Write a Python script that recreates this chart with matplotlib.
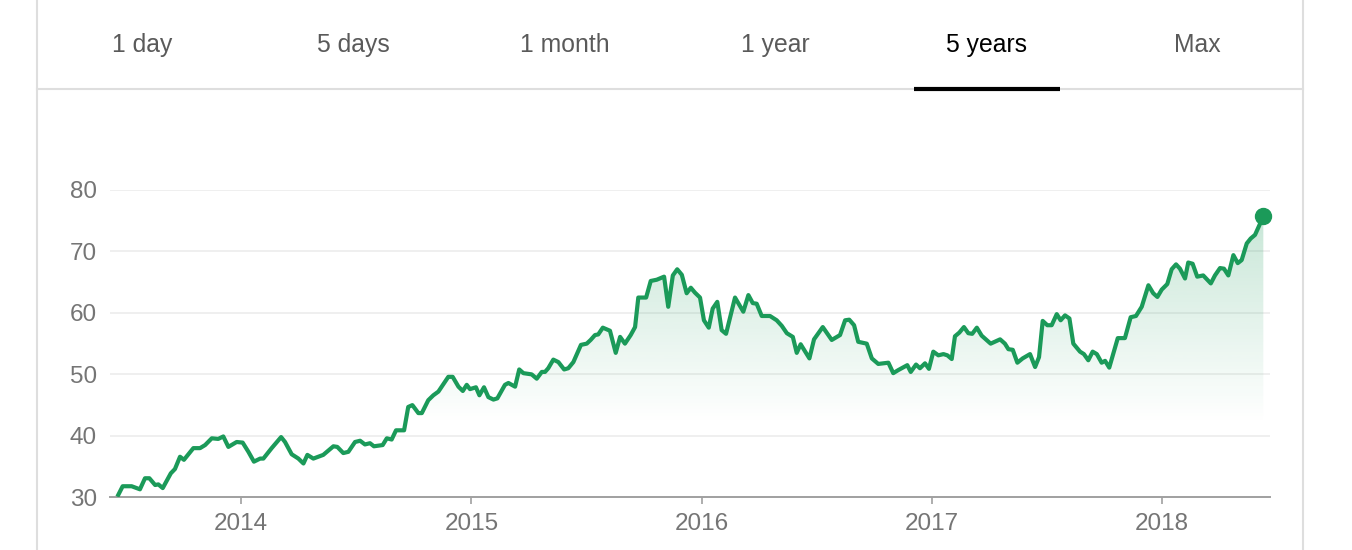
import numpy as np
import matplotlib
matplotlib.use('Agg')
import matplotlib.pyplot as plt
from matplotlib.lines import Line2D

plt.rcParams['font.family'] = ['Liberation Sans', 'DejaVu Sans']

# ------------------------------------------------------------
# Data
# ------------------------------------------------------------
tab_labels = ['1 day', '5 days', '1 month', '1 year', '5 years', 'Max']
active_tab = '5 years'

years = [
    2013.467, 2013.486, 2013.525, 2013.561, 2013.583, 2013.602, 2013.627, 2013.641,
    2013.660, 2013.695, 2013.713, 2013.735, 2013.752, 2013.793, 2013.822, 2013.844,
    2013.873, 2013.901, 2013.923, 2013.945, 2013.981, 2014.007, 2014.032, 2014.056,
    2014.083, 2014.097, 2014.133, 2014.174, 2014.191, 2014.220, 2014.249, 2014.271,
    2014.288, 2014.314, 2014.357, 2014.401, 2014.418, 2014.444, 2014.466, 2014.495,
    2014.517, 2014.538, 2014.560, 2014.577, 2014.615, 2014.633, 2014.654, 2014.673,
    2014.708, 2014.726, 2014.744, 2014.770, 2014.785, 2014.813, 2014.835, 2014.857,
    2014.900, 2014.919, 2014.944, 2014.963, 2014.980, 2014.994, 2015.020, 2015.035,
    2015.055, 2015.074, 2015.096, 2015.113, 2015.146, 2015.161, 2015.190, 2015.208,
    2015.226, 2015.262, 2015.284, 2015.306, 2015.320, 2015.334, 2015.356, 2015.378,
    2015.403, 2015.421, 2015.443, 2015.476, 2015.501, 2015.518, 2015.537, 2015.551,
    2015.571, 2015.602, 2015.627, 2015.646, 2015.667, 2015.692, 2015.711, 2015.725,
    2015.759, 2015.779, 2015.805, 2015.837, 2015.855, 2015.875, 2015.894, 2015.914,
    2015.935, 2015.953, 2015.971, 2015.993, 2016.010, 2016.031, 2016.048, 2016.068,
    2016.087, 2016.106, 2016.145, 2016.181, 2016.203, 2016.222, 2016.239, 2016.261,
    2016.297, 2016.326, 2016.348, 2016.370, 2016.396, 2016.413, 2016.430, 2016.468,
    2016.488, 2016.526, 2016.565, 2016.601, 2016.623, 2016.641, 2016.662, 2016.680,
    2016.717, 2016.739, 2016.767, 2016.811, 2016.832, 2016.854, 2016.893, 2016.908,
    2016.931, 2016.948, 2016.970, 2016.987, 2017.006, 2017.028, 2017.050, 2017.067,
    2017.086, 2017.100, 2017.119, 2017.139, 2017.158, 2017.175, 2017.195, 2017.216,
    2017.255, 2017.296, 2017.317, 2017.332, 2017.351, 2017.371, 2017.394, 2017.426,
    2017.448, 2017.465, 2017.481, 2017.501, 2017.520, 2017.542, 2017.559, 2017.578,
    2017.597, 2017.614, 2017.643, 2017.660, 2017.679, 2017.698, 2017.716, 2017.737,
    2017.752, 2017.770, 2017.807, 2017.838, 2017.863, 2017.886, 2017.911, 2017.940,
    2017.961, 2017.979, 2017.998, 2018.022, 2018.041, 2018.060, 2018.077, 2018.099,
    2018.113, 2018.132, 2018.152, 2018.178, 2018.211, 2018.229, 2018.251, 2018.268,
    2018.287, 2018.309, 2018.328, 2018.345, 2018.367, 2018.384, 2018.403, 2018.422,
    2018.439,
]

prices = [
    30.4, 31.8, 31.8, 31.3, 33.1, 33.1, 32.0, 32.1,
    31.5, 33.9, 34.6, 36.6, 36.1, 38.0, 38.0, 38.5,
    39.6, 39.5, 39.9, 38.2, 39.0, 38.9, 37.4, 35.8,
    36.3, 36.3, 38.0, 39.8, 39.0, 37.0, 36.3, 35.5,
    36.9, 36.3, 36.9, 38.3, 38.2, 37.2, 37.4, 39.0,
    39.2, 38.6, 38.8, 38.3, 38.5, 39.6, 39.4, 40.9,
    40.9, 44.7, 45.0, 43.7, 43.7, 45.8, 46.6, 47.2,
    49.6, 49.6, 48.0, 47.3, 48.3, 47.6, 47.9, 46.6,
    47.9, 46.3, 45.9, 46.1, 48.3, 48.6, 48.0, 50.8,
    50.2, 50.0, 49.3, 50.4, 50.4, 51.0, 52.4, 52.0,
    50.8, 51.0, 52.0, 54.8, 55.0, 55.6, 56.4, 56.5,
    57.6, 57.1, 53.5, 56.1, 55.0, 56.4, 57.7, 62.5,
    62.5, 65.2, 65.4, 65.9, 61.0, 66.1, 67.1, 66.2,
    63.2, 64.1, 63.3, 62.5, 58.8, 57.6, 60.7, 61.8,
    57.2, 56.6, 62.5, 60.2, 62.9, 61.6, 61.5, 59.5,
    59.5, 58.8, 57.9, 56.7, 56.1, 53.5, 54.9, 52.6,
    55.7, 57.7, 55.6, 56.4, 58.8, 58.9, 58.0, 55.3,
    55.0, 52.6, 51.7, 51.9, 50.2, 50.7, 51.5, 50.4,
    51.6, 51.0, 51.8, 50.9, 53.7, 53.1, 53.3, 53.1,
    52.5, 56.2, 56.8, 57.7, 56.7, 56.6, 57.6, 56.3,
    55.0, 55.7, 55.0, 54.1, 54.0, 51.9, 52.6, 53.3,
    51.2, 52.8, 58.7, 58.0, 58.0, 59.8, 58.8, 59.6,
    59.1, 55.0, 53.7, 53.3, 52.3, 53.7, 53.3, 51.9,
    52.2, 51.1, 55.9, 55.9, 59.3, 59.5, 61.0, 64.5,
    63.2, 62.6, 63.8, 64.7, 67.1, 67.9, 67.2, 65.6,
    68.2, 68.0, 65.9, 66.1, 64.8, 66.1, 67.3, 67.2,
    66.1, 69.4, 68.1, 68.6, 71.3, 72.1, 72.7, 74.3,
    75.7,
]

year_ticks = [2014, 2015, 2016, 2017, 2018]
price_ticks = [30, 40, 50, 60, 70, 80]

# colours
green = '#1b9a59'
label_grey = '#757575'
tab_grey = '#5a5a5a'
border_grey = '#dedede'

# ------------------------------------------------------------
# Figure + tab bar
# ------------------------------------------------------------
W, H = 1352, 550
fig = plt.figure(figsize=(W / 100, H / 100), dpi=100)
fig.patch.set_facecolor('white')

box_left, box_right = 37 / W, 1303 / W
tab_line_y = 1 - 89 / H
tab_w = (box_right - box_left) / len(tab_labels)

# card borders
fig.add_artist(Line2D([box_left, box_left], [0, 1], color=border_grey, lw=1.5))
fig.add_artist(Line2D([box_right, box_right], [0, 1], color=border_grey, lw=1.5))
fig.add_artist(Line2D([box_left, box_right], [tab_line_y, tab_line_y], color=border_grey, lw=1.5))

for i, lab in enumerate(tab_labels):
    cx = box_left + (i + 0.5) * tab_w
    is_active = lab == active_tab
    fig.text(cx, 1 - 45 / H, lab, ha='center', va='center', fontsize=17.8,
             color='#000000' if is_active else tab_grey)
    if is_active:
        fig.add_artist(Line2D([cx - 73 / W, cx + 73 / W], [tab_line_y, tab_line_y],
                              color='black', lw=3, solid_capstyle='butt'))

# ------------------------------------------------------------
# Price chart
# ------------------------------------------------------------
ax = fig.add_axes([110 / W, 1 - 497.3 / H, 1160 / W, (497.3 - 190) / H])
x_min, x_max = 2013.431, 2018.468
y_min, y_max = 30, 80

# gradient fill under the line
top = max(prices)
fade = 42.0
vals = np.linspace(y_min, top, 300)
alpha = np.clip((vals - fade) / (top - fade), 0, 1) * 0.24
grad = np.zeros((len(vals), 1, 4))
grad[:, 0, :3] = matplotlib.colors.to_rgb(green)
grad[:, 0, 3] = alpha
poly = ax.fill_between(years, prices, y_min, color='none', lw=0)
im = ax.imshow(grad, extent=[years[0], years[-1], y_min, top], aspect='auto',
               origin='lower', zorder=1, interpolation='bilinear')
im.set_clip_path(poly.get_paths()[0], transform=ax.transData)
ax.set_xlim(x_min, x_max)
ax.set_ylim(y_min, y_max)

ax.plot(years, prices, color=green, lw=3.0, zorder=3, solid_joinstyle='round')
ax.plot(years[-1], prices[-1], 'o', color=green, markersize=11.5, zorder=4, clip_on=False)

# axes styling
ax.set_yticks(price_ticks)
ax.set_xticks(year_ticks)
ax.set_xticklabels([str(y) for y in year_ticks])
ax.grid(axis='y', color='#eeeeee', lw=1.3, zorder=0)
ax.set_axisbelow(True)
for side in ['top', 'left', 'right']:
    ax.spines[side].set_visible(False)
ax.spines['bottom'].set_color('#a0a0a0')
ax.spines['bottom'].set_linewidth(1.4)
ax.tick_params(axis='y', length=0, pad=9.5, labelsize=17.5, labelcolor=label_grey)
ax.tick_params(axis='x', length=5, width=1.2, color='#a0a0a0', pad=6,
               labelsize=17.5, labelcolor=label_grey)

plt.savefig('out.png', dpi=100, facecolor='white')
